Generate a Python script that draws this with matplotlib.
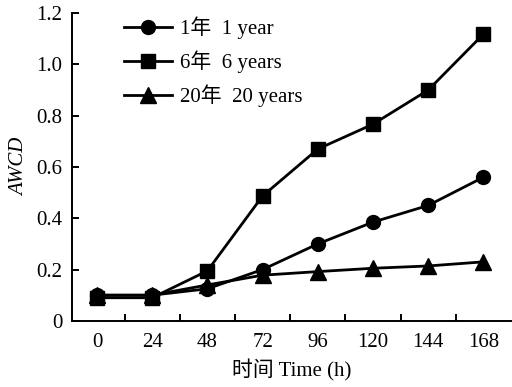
import matplotlib
matplotlib.use("Agg")
import matplotlib.pyplot as plt
import numpy as np

# -----------------------------
# Data (AWCD over incubation time)
# -----------------------------
hours = [0, 24, 48, 72, 96, 120, 144, 168]
awcd_1yr = [0.10, 0.10, 0.125, 0.20, 0.30, 0.385, 0.45, 0.56]
awcd_6yr = [0.09, 0.09, 0.195, 0.487, 0.67, 0.767, 0.90, 1.118]
awcd_20yr = [0.10, 0.10, 0.14, 0.178, 0.192, 0.205, 0.214, 0.23]
labels = ["1年  1 year", "6年  6 years", "20年  20 years"]
y_ticks = [0, 0.2, 0.4, 0.6, 0.8, 1.0, 1.2]
y_tick_labels = ["0", "0.2", "0.4", "0.6", "0.8", "1.0", "1.2"]

FONT = ["Liberation Serif", "Noto Sans CJK SC"]
plt.rcParams["font.family"] = FONT
plt.rcParams["font.size"] = 15

fig = plt.figure(figsize=(5.12, 3.87), dpi=100)
ax = fig.add_axes([0.141, 0.171, 0.857, 0.795])

x = np.arange(len(hours))
series = [(awcd_1yr, "o", 10), (awcd_6yr, "s", 10), (awcd_20yr, "^", 11)]
for (vals, mk, ms), lab in zip(series, labels):
    ax.plot(x, vals, color="black", lw=2.0, marker=mk, markersize=ms,
            label=lab, clip_on=False)

# category style x axis: labels centred, ticks between categories
ax.set_xlim(-0.45, len(hours) - 0.5)
ax.set_xticks(x)
ax.set_xticklabels([str(h) for h in hours])
ax.set_xticks(x[1:] - 0.5, minor=True)
ax.tick_params(axis="x", which="major", length=0, pad=9)
ax.tick_params(axis="x", which="minor", direction="in", length=5, width=1.4)

ax.set_ylim(0, 1.2)
ax.set_yticks(y_ticks)
ax.set_yticklabels(y_tick_labels)
ax.tick_params(axis="y", direction="in", length=5, width=1.4, pad=7)

for s in ["top", "right"]:
    ax.spines[s].set_visible(False)
for s in ["left", "bottom"]:
    ax.spines[s].set_linewidth(1.4)

ax.set_xlabel("时间 Time (h)", fontsize=15, labelpad=5)
ax.set_ylabel("AWCD", fontsize=15, style="italic")
ax.yaxis.set_label_coords(-0.097, 0.5)

ax.legend(loc="upper left", bbox_to_anchor=(0.075, 1.05), frameon=False,
          handlelength=2.3, handletextpad=0.4, labelspacing=0.55, fontsize=15)

fig.savefig("out.png", dpi=100)
